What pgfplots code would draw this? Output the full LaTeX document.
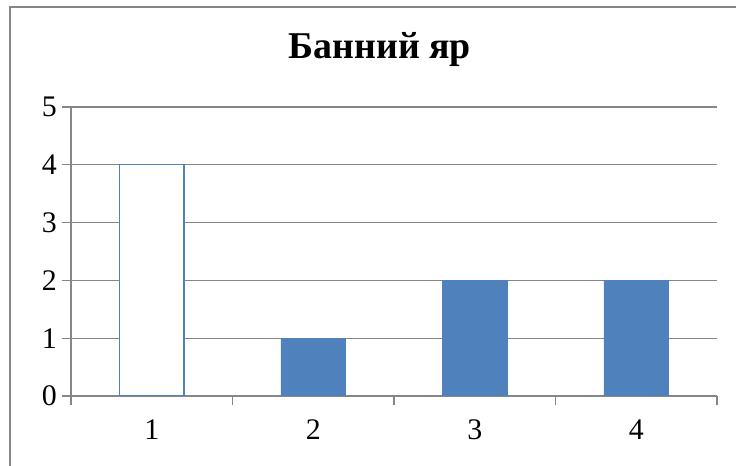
\documentclass[border=0pt]{standalone}
\usepackage{fontspec}
\setmainfont{Liberation Serif}
\usepackage{pgfplots}
\pgfplotsset{compat=1.18}
\definecolor{barblue}{HTML}{4F81BD}
\definecolor{axgray}{HTML}{868686}

\begin{document}
\begin{tikzpicture}
\useasboundingbox (-71bp,-70bp) rectangle (665bp,396bp);
\draw[axgray, line width=1.2bp] (-61bp,-70bp) -- (-61bp,389bp) -- (665bp,389bp);
\begin{axis}[
    at={(0,0)}, anchor=south west,
    scale only axis,
    width=646bp, height=289bp,
    xmin=0.5, xmax=4.5,
    ymin=0, ymax=5,
    xtick={1,2,3,4},
    xticklabels={1,2,3,4},
    major x tick style={draw=none},
    minor xtick={0.5,1.5,2.5,3.5,4.5},
    minor x tick style={axgray, line width=1.2bp},
    ytick={0,1,2,3,4,5},
    tick align=outside,
    major tick length=9bp,
    minor tick length=9bp,
    y tick style={axgray, line width=1.2bp},
    ymajorgrids,
    grid style={axgray, line width=1.2bp},
    axis x line*=bottom,
    axis y line*=left,
    axis line style={axgray, line width=1.2bp, -},
    /pgf/number format/assume math mode=true,
    tick label style={font=\fontsize{30}{36}\selectfont, black},
    yticklabel style={inner sep=1bp, xshift=-4bp},
    xticklabel style={inner sep=0bp, yshift=-15bp},
    title={\textbf{Банний яр}},
    title style={font=\fontsize{38}{44}\selectfont, at={(axis description cs:0.478,1)}, anchor=center, yshift=52bp},
    ybar, bar width=0.4,
]
\addplot[bar shift=0, fill=white, draw=barblue, line width=1.2bp] coordinates {(1,4)};
\addplot[bar shift=0, fill=barblue, draw=barblue] coordinates {(2,1) (3,2) (4,2)};
\end{axis}
\end{tikzpicture}
\end{document}
